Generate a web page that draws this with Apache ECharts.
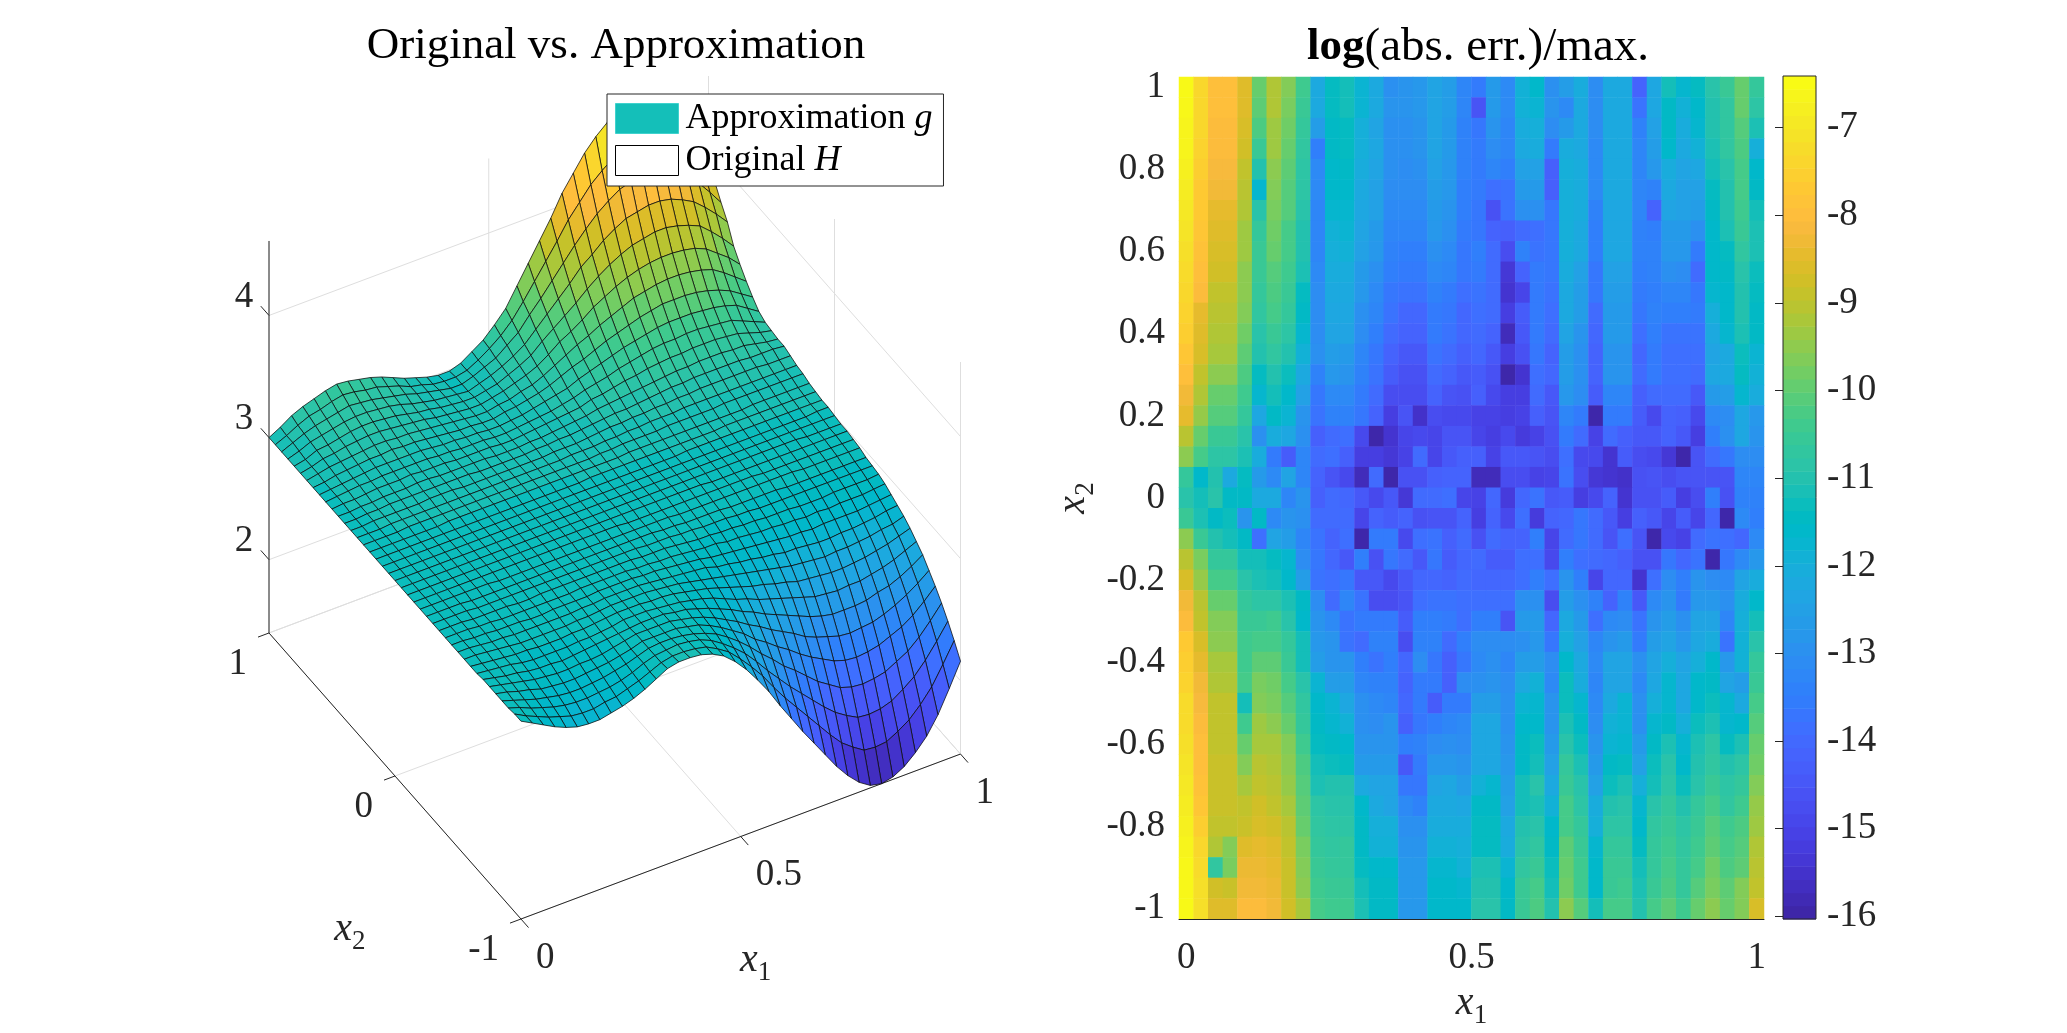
<!DOCTYPE html>
<html>
<head>
<meta charset="utf-8">
<title>Original vs. Approximation</title>
<style>html,body{margin:0;padding:0;background:#fff}#chart{width:2067px;height:1033px}</style>
<script src="https://cdn.jsdelivr.net/npm/echarts@6/dist/echarts.min.js"></script>
</head>
<body>
<div id="chart"></div>
<script>
// Tick values of both panels and the colour bar
const x1Ticks = [0, 0.5, 1];
const x2Ticks3d = [-1, 0, 1];
const zTicks = [2, 3, 4];
const x2TicksMap = [-1, -0.8, -0.6, -0.4, -0.2, 0, 0.2, 0.4, 0.6, 0.8, 1];
const colorTicks = [-7, -8, -9, -10, -11, -12, -13, -14, -15, -16];
const zLimits = [1.4, 4.61];
const colorLimits = [-16.03, -6.41];

// Sample positions: 40 along x1, 41 along x2 (x2 = 1 comes first)
const x1Samples = Array.from({ length: 40 }, (_, i) => i / 39);
const x2Samples = Array.from({ length: 41 }, (_, i) => 1 - i / 20);

// Surface height per x2 row and x1 column
const surfaceRows = [
[3.00,3.05,3.11,3.15,3.18,3.21,3.23,3.22,3.20,3.18,3.15,3.11,3.07,3.04,3.01,2.99,2.99,3.02,3.08,3.14,3.23,3.33,3.48,3.63,3.78,3.93,4.10,4.23,4.36,4.46,4.54,4.58,4.61,4.61,4.57,4.50,4.40,4.26,4.10,3.93],
[3.00,3.04,3.09,3.13,3.15,3.18,3.20,3.19,3.17,3.16,3.13,3.10,3.06,3.04,3.01,3.00,3.00,3.02,3.07,3.13,3.20,3.29,3.41,3.54,3.67,3.80,3.94,4.05,4.16,4.24,4.31,4.35,4.37,4.37,4.34,4.28,4.20,4.08,3.95,3.80],
[3.00,3.04,3.08,3.11,3.13,3.15,3.17,3.16,3.15,3.13,3.11,3.09,3.06,3.04,3.02,3.00,3.00,3.03,3.07,3.11,3.18,3.25,3.36,3.46,3.57,3.68,3.79,3.89,3.98,4.05,4.11,4.14,4.16,4.16,4.13,4.09,4.02,3.92,3.81,3.69],
[3.00,3.03,3.07,3.09,3.11,3.13,3.14,3.14,3.13,3.12,3.10,3.07,3.05,3.03,3.02,3.01,3.00,3.03,3.06,3.10,3.15,3.21,3.30,3.39,3.48,3.57,3.67,3.74,3.82,3.88,3.93,3.95,3.97,3.97,3.95,3.91,3.86,3.78,3.69,3.59],
[3.00,3.02,3.06,3.07,3.09,3.11,3.12,3.12,3.11,3.10,3.08,3.06,3.05,3.03,3.02,3.01,3.01,3.03,3.05,3.09,3.13,3.18,3.26,3.33,3.40,3.47,3.55,3.62,3.68,3.73,3.77,3.79,3.81,3.81,3.79,3.76,3.72,3.64,3.55,3.45],
[3.00,3.02,3.05,3.06,3.08,3.09,3.10,3.10,3.09,3.08,3.07,3.06,3.04,3.03,3.02,3.01,3.01,3.03,3.05,3.08,3.11,3.15,3.21,3.28,3.33,3.39,3.46,3.51,3.56,3.60,3.63,3.65,3.66,3.66,3.65,3.63,3.59,3.52,3.45,3.36],
[3.00,3.02,3.04,3.05,3.06,3.07,3.08,3.08,3.07,3.07,3.06,3.05,3.04,3.03,3.02,3.01,3.01,3.03,3.04,3.07,3.09,3.13,3.18,3.23,3.28,3.32,3.37,3.41,3.45,3.49,3.51,3.53,3.54,3.54,3.53,3.51,3.48,3.42,3.35,3.28],
[3.00,3.01,3.03,3.04,3.05,3.06,3.06,3.07,3.06,3.06,3.05,3.04,3.03,3.02,3.02,3.01,3.01,3.03,3.04,3.06,3.08,3.11,3.15,3.19,3.22,3.26,3.30,3.33,3.36,3.39,3.41,3.43,3.43,3.43,3.42,3.40,3.37,3.33,3.27,3.21],
[3.00,3.01,3.02,3.03,3.04,3.05,3.05,3.05,3.05,3.05,3.04,3.03,3.03,3.02,3.02,3.01,3.01,3.02,3.03,3.05,3.07,3.09,3.11,3.15,3.18,3.21,3.24,3.27,3.29,3.31,3.33,3.34,3.34,3.34,3.33,3.32,3.30,3.27,3.21,3.15],
[3.00,3.01,3.02,3.03,3.03,3.04,3.04,3.04,3.04,3.04,3.03,3.03,3.02,3.02,3.02,3.01,3.01,3.02,3.03,3.04,3.05,3.07,3.09,3.12,3.14,3.16,3.19,3.21,3.23,3.25,3.26,3.26,3.27,3.27,3.26,3.25,3.24,3.20,3.16,3.12],
[3.00,3.01,3.01,3.02,3.03,3.03,3.03,3.04,3.03,3.03,3.03,3.02,3.02,3.02,3.02,3.01,3.01,3.02,3.03,3.04,3.05,3.06,3.07,3.10,3.11,3.13,3.15,3.16,3.18,3.19,3.20,3.20,3.21,3.21,3.21,3.20,3.19,3.16,3.13,3.11],
[3.00,3.00,3.01,3.01,3.02,3.02,3.02,3.03,3.03,3.02,3.02,3.02,3.02,3.02,3.01,3.01,3.01,3.02,3.02,3.03,3.04,3.05,3.06,3.08,3.09,3.10,3.11,3.12,3.13,3.14,3.15,3.15,3.16,3.16,3.16,3.15,3.15,3.13,3.11,3.10],
[3.00,3.00,3.01,3.01,3.02,3.02,3.02,3.02,3.02,3.02,3.02,3.02,3.01,3.01,3.01,3.01,3.01,3.02,3.02,3.03,3.03,3.04,3.05,3.06,3.07,3.07,3.08,3.09,3.10,3.11,3.11,3.12,3.12,3.12,3.12,3.12,3.11,3.11,3.11,3.10],
[3.00,3.00,3.01,3.01,3.01,3.01,3.01,3.02,3.02,3.02,3.01,3.01,3.01,3.01,3.01,3.01,3.01,3.01,3.02,3.02,3.02,3.03,3.04,3.05,3.05,3.06,3.06,3.07,3.07,3.08,3.08,3.09,3.09,3.09,3.09,3.09,3.09,3.08,3.08,3.08],
[3.00,3.00,3.00,3.01,3.01,3.01,3.01,3.01,3.01,3.01,3.01,3.01,3.01,3.01,3.01,3.01,3.01,3.01,3.01,3.02,3.02,3.02,3.03,3.03,3.04,3.04,3.05,3.05,3.05,3.06,3.06,3.06,3.06,3.06,3.06,3.06,3.06,3.06,3.06,3.06],
[3.00,3.00,3.00,3.00,3.01,3.01,3.01,3.01,3.01,3.01,3.01,3.01,3.01,3.01,3.01,3.01,3.01,3.01,3.01,3.01,3.01,3.02,3.02,3.03,3.03,3.03,3.03,3.04,3.04,3.04,3.04,3.04,3.05,3.05,3.05,3.05,3.05,3.05,3.05,3.05],
[3.00,3.00,3.00,3.00,3.00,3.00,3.00,3.01,3.01,3.01,3.01,3.01,3.01,3.01,3.01,3.01,3.01,3.01,3.01,3.01,3.01,3.01,3.01,3.02,3.02,3.02,3.02,3.02,3.02,3.02,3.02,3.02,3.02,3.02,3.03,3.03,3.03,3.03,3.03,3.03],
[3.00,3.00,3.00,3.00,3.00,3.00,3.00,3.00,3.00,3.00,3.00,3.00,3.00,3.00,3.00,3.00,3.00,3.00,3.00,3.01,3.01,3.01,3.01,3.01,3.01,3.01,3.01,3.01,3.01,3.01,3.01,3.02,3.02,3.02,3.02,3.02,3.02,3.02,3.02,3.02],
[3.00,3.00,3.00,3.00,3.00,3.00,3.00,3.00,3.00,3.00,3.00,3.00,3.00,3.00,3.00,3.00,3.00,3.00,3.00,3.00,3.00,3.00,3.00,3.00,3.00,3.00,3.00,3.01,3.01,3.01,3.01,3.01,3.01,3.01,3.01,3.01,3.01,3.01,3.01,3.01],
[3.00,3.00,3.00,3.00,3.00,3.00,3.00,3.00,3.00,3.00,3.00,3.00,3.00,3.00,3.00,3.00,3.00,3.00,3.00,3.00,3.00,3.00,3.00,3.00,3.00,3.00,3.00,3.00,3.00,3.00,3.00,3.00,3.00,3.00,3.00,3.00,3.00,3.00,3.01,3.01],
[3.00,3.00,3.00,3.00,3.00,3.00,3.00,3.00,3.00,3.00,3.00,3.00,3.00,3.00,3.00,3.00,3.00,3.00,3.00,3.00,3.00,3.00,3.00,3.00,3.00,3.00,3.00,3.00,3.00,3.00,3.00,3.00,3.00,3.00,3.00,3.00,3.00,3.00,3.00,3.00],
[3.00,3.00,3.00,3.00,3.00,3.00,3.00,3.00,3.00,3.00,3.00,3.00,3.00,3.00,3.00,3.00,3.00,3.00,3.00,3.00,3.00,3.00,3.00,3.00,3.00,3.00,3.00,3.00,3.00,3.00,3.00,3.00,3.00,3.00,3.00,3.00,2.99,2.99,2.99,2.99],
[3.00,3.00,3.00,3.00,3.00,3.00,3.00,3.00,3.00,3.00,3.00,3.00,3.00,3.00,3.00,3.00,3.00,3.00,3.00,3.00,3.00,3.00,3.00,3.00,3.00,3.00,3.00,2.99,2.99,2.99,2.99,2.99,2.99,2.99,2.99,2.99,2.99,2.99,2.99,2.99],
[3.00,3.00,3.00,3.00,3.00,3.00,3.00,3.00,3.00,3.00,3.00,3.00,3.00,3.00,3.00,3.00,3.00,3.00,3.00,2.99,2.99,2.99,2.99,2.99,2.99,2.99,2.99,2.99,2.99,2.99,2.99,2.98,2.98,2.98,2.98,2.98,2.98,2.98,2.98,2.98],
[3.00,3.00,3.00,3.00,3.00,3.00,3.00,2.99,2.99,2.99,2.99,2.99,2.99,2.99,2.99,2.99,2.99,2.99,2.99,2.99,2.99,2.99,2.99,2.98,2.98,2.98,2.98,2.98,2.98,2.98,2.98,2.98,2.98,2.98,2.97,2.97,2.97,2.97,2.97,2.97],
[3.00,3.00,3.00,3.00,2.99,2.99,2.99,2.99,2.99,2.99,2.99,2.99,2.99,2.99,2.99,2.99,2.99,2.99,2.99,2.99,2.99,2.98,2.98,2.97,2.97,2.97,2.97,2.96,2.96,2.96,2.96,2.96,2.95,2.95,2.95,2.95,2.95,2.95,2.95,2.95],
[3.00,3.00,3.00,3.00,2.99,2.99,2.99,2.99,2.99,2.99,2.99,2.99,2.99,2.99,2.99,2.99,2.99,2.99,2.99,2.98,2.98,2.98,2.97,2.97,2.96,2.96,2.96,2.95,2.95,2.94,2.94,2.94,2.94,2.94,2.94,2.94,2.94,2.94,2.94,2.94],
[3.00,3.00,3.00,2.99,2.99,2.99,2.99,2.98,2.98,2.99,2.99,2.99,2.99,2.99,2.99,2.99,2.99,2.99,2.98,2.98,2.98,2.97,2.96,2.95,2.95,2.94,2.94,2.93,2.93,2.92,2.92,2.92,2.91,2.91,2.91,2.92,2.92,2.92,2.92,2.93],
[3.00,3.00,3.00,2.99,2.99,2.98,2.98,2.98,2.98,2.98,2.98,2.98,2.99,2.99,2.99,2.99,2.99,2.98,2.98,2.97,2.97,2.96,2.95,2.94,2.94,2.92,2.92,2.91,2.90,2.90,2.89,2.89,2.88,2.89,2.88,2.89,2.89,2.89,2.90,2.91],
[3.00,3.00,2.99,2.99,2.98,2.98,2.98,2.97,2.97,2.98,2.98,2.98,2.98,2.99,2.99,2.99,2.99,2.98,2.98,2.97,2.96,2.95,2.94,2.92,2.91,2.90,2.89,2.88,2.87,2.86,2.85,2.85,2.84,2.85,2.85,2.85,2.85,2.86,2.87,2.88],
[3.00,3.00,2.99,2.98,2.98,2.97,2.97,2.97,2.97,2.97,2.97,2.98,2.98,2.99,2.99,2.99,2.99,2.98,2.97,2.96,2.95,2.94,2.93,2.90,2.89,2.87,2.86,2.84,2.83,2.81,2.81,2.80,2.79,2.79,2.80,2.80,2.81,2.82,2.84,2.85],
[3.00,3.00,2.99,2.98,2.97,2.96,2.96,2.96,2.96,2.96,2.97,2.97,2.98,2.99,2.99,2.99,2.99,2.98,2.97,2.96,2.94,2.92,2.90,2.88,2.86,2.84,2.82,2.80,2.78,2.76,2.75,2.74,2.73,2.74,2.74,2.75,2.76,2.78,2.79,2.82],
[3.00,2.99,2.98,2.97,2.96,2.96,2.95,2.95,2.95,2.96,2.96,2.97,2.98,2.99,2.99,2.99,2.98,2.98,2.97,2.95,2.93,2.91,2.88,2.85,2.82,2.79,2.77,2.74,2.72,2.69,2.68,2.67,2.66,2.66,2.67,2.68,2.70,2.72,2.75,2.78],
[3.00,2.99,2.98,2.97,2.95,2.94,2.94,2.94,2.94,2.95,2.95,2.96,2.97,2.99,2.99,2.99,2.98,2.97,2.96,2.94,2.92,2.89,2.85,2.81,2.78,2.74,2.71,2.68,2.65,2.62,2.59,2.58,2.57,2.58,2.58,2.60,2.62,2.65,2.69,2.73],
[3.01,2.99,2.97,2.96,2.94,2.93,2.93,2.92,2.93,2.94,2.95,2.96,2.97,2.98,2.99,2.99,2.99,2.97,2.96,2.93,2.90,2.86,2.82,2.77,2.73,2.68,2.64,2.60,2.56,2.52,2.49,2.47,2.47,2.47,2.48,2.51,2.53,2.57,2.62,2.68],
[3.01,2.99,2.97,2.95,2.93,2.92,2.91,2.91,2.92,2.92,2.93,2.95,2.97,2.99,2.99,2.99,2.99,2.97,2.95,2.92,2.88,2.83,2.78,2.72,2.67,2.61,2.56,2.51,2.45,2.41,2.38,2.35,2.34,2.35,2.36,2.39,2.43,2.48,2.54,2.61],
[3.01,2.99,2.96,2.94,2.91,2.90,2.89,2.89,2.90,2.91,2.92,2.94,2.96,2.99,2.99,2.99,2.99,2.97,2.95,2.91,2.86,2.80,2.74,2.66,2.60,2.53,2.47,2.40,2.34,2.29,2.24,2.21,2.20,2.21,2.23,2.27,2.31,2.37,2.45,2.54],
[3.01,2.98,2.95,2.92,2.90,2.88,2.87,2.87,2.88,2.89,2.91,2.93,2.96,2.99,3.00,3.00,2.99,2.97,2.94,2.90,2.84,2.77,2.69,2.60,2.52,2.43,2.36,2.28,2.20,2.14,2.08,2.05,2.04,2.05,2.07,2.12,2.17,2.25,2.35,2.46],
[3.01,2.98,2.94,2.91,2.88,2.86,2.85,2.85,2.86,2.87,2.89,2.92,2.96,2.99,3.00,3.01,3.00,2.98,2.94,2.88,2.81,2.73,2.63,2.52,2.42,2.32,2.23,2.14,2.05,1.97,1.91,1.86,1.85,1.86,1.89,1.95,2.02,2.12,2.24,2.37],
[3.02,2.97,2.93,2.89,2.86,2.83,2.82,2.82,2.84,2.85,2.88,2.91,2.95,2.99,3.01,3.01,3.00,2.98,2.93,2.87,2.78,2.68,2.57,2.44,2.32,2.21,2.10,1.99,1.88,1.78,1.71,1.65,1.64,1.65,1.70,1.76,1.85,1.96,2.11,2.27],
[3.02,2.97,2.92,2.87,2.83,2.80,2.79,2.79,2.81,2.83,2.86,2.90,2.95,3.00,3.02,3.02,3.01,2.98,2.93,2.85,2.75,2.63,2.50,2.35,2.21,2.07,1.94,1.81,1.68,1.57,1.48,1.42,1.40,1.42,1.47,1.55,1.65,1.79,1.97,2.16]
];

// log10 relative error per x2 row and x1 column
const errorRows = [
[-6.45,-7.3,-7.9,-7.9,-8.5,-9.9,-9.1,-9.6,-10.4,-12.2,-11.4,-11.2,-11.8,-12.2,-13,-12.9,-12.8,-12.4,-12.6,-13.3,-13.6,-12.7,-13.2,-11.9,-11.6,-13,-12.6,-12.1,-13.1,-12.2,-12.2,-14.2,-12.3,-11.2,-11.7,-11.4,-10.9,-10.5,-9.9,-10.6],
[-6.5,-7.3,-7.9,-7.9,-8.5,-10,-9.1,-9.7,-10.5,-12.2,-11.4,-11.2,-11.8,-12.2,-12.9,-12.9,-12.8,-12.4,-12.6,-13.3,-14.6,-12.7,-13.2,-11.9,-11.8,-12.9,-13.2,-12.2,-13.1,-12.2,-12.2,-13.8,-12.3,-11.5,-11.9,-11.6,-11,-10.7,-9.9,-10.8],
[-6.6,-7.3,-8,-8,-8.6,-10.2,-9.3,-9.8,-10.6,-12.6,-11.5,-11.4,-12,-12.4,-13,-13,-12.9,-12.4,-12.7,-13.4,-13.7,-12.9,-13.3,-12.1,-12,-13.1,-12.7,-12.2,-13.1,-12.2,-12.2,-13.4,-12.5,-11.5,-12.1,-11.7,-11,-10.7,-10.1,-11.1],
[-6.6,-7.4,-8,-8,-8.7,-10.5,-9.3,-9.9,-10.7,-13.5,-11.5,-11.4,-12,-12.3,-13,-13,-12.9,-12.4,-12.7,-13.4,-13.6,-13.1,-13.3,-12.2,-12.1,-13.6,-12.1,-12.2,-13.2,-12.2,-12.2,-13.3,-12.6,-11.6,-12.2,-11.9,-11.1,-10.7,-10.2,-12],
[-6.7,-7.5,-8.1,-8.1,-8.9,-11,-9.5,-10,-10.8,-13.2,-11.6,-11.5,-12.1,-12.4,-13,-13.1,-13,-12.5,-12.8,-13.4,-13.6,-13.3,-13.5,-12.5,-12.5,-14.3,-12,-12.1,-13.2,-12.2,-12.2,-13.3,-12.8,-12.1,-12.4,-12.3,-11.2,-10.9,-10.3,-11.6],
[-6.8,-7.6,-8.2,-8.2,-9,-11.7,-9.6,-10.1,-10.8,-13.2,-11.6,-11.6,-12.2,-12.5,-13.1,-13.1,-13.1,-12.6,-12.8,-13.5,-13.6,-13.9,-13.8,-12.7,-12.7,-14.3,-12,-12.1,-13.2,-12.2,-12.2,-13.3,-13.4,-12.2,-12.5,-12.5,-11.4,-11,-10.3,-11.5],
[-6.9,-7.6,-8.4,-8.4,-9.1,-10.9,-9.7,-10.1,-10.9,-13.3,-11.7,-11.7,-12.3,-12.5,-13.2,-13.2,-13.2,-12.7,-12.9,-13.5,-13.7,-14.7,-13.8,-13,-13,-13.7,-12,-12.1,-13.4,-12.3,-12.3,-13.3,-14.2,-12.4,-12.5,-12.6,-11.5,-11,-10.4,-11.2],
[-7,-7.7,-8.5,-8.5,-9.3,-10.6,-9.8,-10.3,-11,-13.3,-11.9,-11.8,-12.4,-12.7,-13.3,-13.3,-13.3,-12.8,-13,-13.6,-13.7,-14.2,-14.3,-14,-13.9,-13.7,-12,-12.2,-13.5,-12.3,-12.3,-13.4,-13.5,-12.7,-12.7,-13,-11.6,-11.1,-10.5,-11.1],
[-7.1,-7.8,-8.6,-8.6,-9.3,-10.5,-9.9,-10.3,-11,-13.3,-12,-11.9,-12.5,-12.8,-13.4,-13.5,-13.5,-13,-13.2,-13.7,-13.5,-14,-14.8,-13.4,-13.8,-13.7,-12,-12.2,-13.5,-12.3,-12.3,-13.4,-13.4,-12.8,-12.8,-13.6,-11.6,-11.4,-10.7,-11.1],
[-7.2,-7.9,-8.7,-8.7,-9.5,-10.5,-10.1,-10.4,-11.1,-13.2,-12.1,-12.1,-12.7,-13,-13.5,-13.6,-13.6,-13.2,-13.3,-13.7,-13.6,-14,-15.4,-14.2,-13.6,-13.7,-12.1,-12.5,-13.7,-12.5,-12.5,-13.5,-13.4,-13,-13.1,-14,-11.6,-11.5,-10.9,-11.3],
[-7.3,-8,-8.9,-8.9,-9.5,-10.6,-10.2,-10.5,-11.4,-13.1,-12.2,-12.2,-12.8,-13.2,-13.7,-13.8,-13.8,-13.4,-13.6,-13.9,-13.8,-14,-15.5,-15,-13.6,-13.8,-12.2,-12.6,-13.7,-12.6,-12.6,-13.6,-13.5,-13.3,-13.3,-13.7,-11.7,-11.6,-11,-11.4],
[-7.4,-8.4,-9,-9,-9.6,-10.7,-10.3,-10.6,-11.5,-13.1,-12.3,-12.3,-13,-13.3,-13.8,-14.1,-14.1,-13.6,-13.7,-14.1,-13.9,-14,-15.2,-14.4,-13.6,-13.9,-12.2,-12.6,-14,-12.7,-12.7,-13.7,-13.4,-13.5,-13.5,-13.6,-12,-11.6,-11,-11.5],
[-7.5,-8.5,-9.1,-9.1,-9.8,-10.9,-10.5,-10.8,-11.7,-13.1,-12.4,-12.4,-13.1,-13.5,-14,-14.2,-14.2,-13.6,-13.8,-14.1,-14,-14.2,-15.8,-14.5,-13.6,-14,-12.4,-12.9,-14.1,-12.7,-12.7,-13.9,-13.5,-13.8,-13.8,-13.8,-12.2,-11.7,-11.1,-11.5],
[-7.7,-8.6,-9.2,-9.2,-10,-11,-10.7,-11,-11.9,-13,-12.6,-12.7,-13.3,-13.7,-14.2,-14.5,-14.5,-13.8,-14,-14.3,-14.1,-14.5,-15.2,-14.7,-13.7,-14.2,-12.6,-13,-14.2,-12.9,-12.9,-14.1,-13.6,-13.9,-13.9,-13.9,-12.4,-12.2,-11.3,-11.8],
[-7.9,-8.9,-9.5,-9.5,-10.2,-11.4,-11,-11.3,-12.2,-13.4,-12.8,-12.9,-13.4,-13.8,-14.4,-14.7,-14.7,-14,-14.2,-14.5,-14.4,-14.7,-16,-15.5,-13.9,-14.1,-12.6,-13,-14.2,-12.9,-12.9,-14,-13.6,-13.9,-13.9,-14,-12.3,-12.2,-11.4,-11.9],
[-8.2,-9.1,-9.9,-9.9,-10.4,-11.7,-11.2,-11.6,-12.5,-13.7,-13.2,-13.2,-13.6,-14,-14.8,-14.8,-14.8,-14.2,-14.6,-14.7,-14.3,-14.9,-15.2,-15.2,-14,-14.5,-12.8,-13.1,-14.4,-13.3,-13.3,-14.3,-14,-14,-14,-14.5,-12.7,-12.6,-11.7,-12.1],
[-8.4,-9.4,-10.1,-10.1,-10.6,-12.3,-11.5,-11.8,-12.9,-13.8,-13.4,-13.4,-13.7,-14.2,-15.2,-14.6,-15.6,-14.8,-14.9,-14.9,-15.1,-15.1,-15.2,-15.1,-14.3,-14.6,-13.3,-13.6,-16,-13.6,-13.6,-14.4,-14.9,-14.2,-14.3,-14.9,-13.2,-13.1,-12.3,-12.8],
[-9,-9.9,-10.5,-10.5,-10.9,-13,-12.1,-12.3,-13,-14.3,-14,-13.9,-14.9,-16,-15.5,-15,-14.9,-15,-14.6,-14.6,-15,-15.2,-14.9,-15.3,-15.1,-14.7,-13.6,-14,-15.1,-14,-14.3,-14.5,-14.5,-14.2,-14.5,-15.2,-13.5,-13,-12.3,-12.9],
[-9.5,-10.3,-10.8,-10.8,-11.1,-12.1,-13.6,-14.4,-13.3,-14,-13.9,-14.3,-15.2,-15.2,-15.4,-15.1,-14,-15,-14.5,-14.3,-14.3,-15.1,-14.5,-14.5,-14.6,-14.8,-13.9,-14.9,-14.9,-15.5,-14.4,-14.8,-14.9,-15.4,-16,-14.6,-14,-13.7,-13.1,-13.1],
[-10.6,-11.6,-11,-12.2,-11.4,-12.7,-13.2,-12.4,-13.3,-14.2,-14.6,-14.9,-15.8,-14,-16,-14.7,-14.7,-14.3,-14.2,-14.2,-15.8,-15.8,-14.8,-14.8,-15.1,-15,-13.8,-14.8,-15.4,-15.5,-15.6,-14.7,-14.6,-14.8,-14.6,-14.6,-14.6,-14.6,-13.3,-13.3],
[-10.9,-11.2,-10.9,-11.5,-11.5,-12.2,-12.2,-13.3,-12.9,-14.3,-14,-14.1,-14.5,-14.9,-14.5,-15.4,-14,-14,-13.9,-15,-15.1,-14.1,-15.3,-14.1,-13.8,-14.5,-14.4,-15.2,-14.9,-14.2,-15.5,-14.7,-14.7,-14.4,-15.2,-14.8,-13.5,-14.7,-13.4,-13.4],
[-10.5,-11.1,-11.5,-11.3,-12.9,-11.5,-13.2,-12.9,-13,-14,-14,-14,-15,-14.2,-14.4,-14.2,-14.7,-14.6,-14.6,-14.2,-15.2,-14.2,-14.9,-13.9,-15.3,-14.2,-14.1,-13.7,-14,-14.5,-15.2,-14.3,-14.5,-15,-14.4,-15,-14.1,-16,-13.2,-13.5],
[-9.5,-10.5,-11,-11.2,-11.5,-13.9,-12.4,-12.6,-13.3,-13.8,-14.2,-13.9,-16,-13.6,-13.6,-14.9,-13.9,-13.8,-14.3,-14,-14.7,-14,-14.2,-14.2,-13.5,-15,-14,-13.7,-14,-14.6,-13.9,-14.6,-16,-14.9,-15.1,-14,-13.8,-13.9,-14.1,-13.2],
[-9,-9.7,-10.6,-10.6,-11.2,-11.2,-11.4,-11.7,-13.1,-13.7,-14.1,-14.5,-13.5,-14.7,-13.7,-14,-14.5,-13.7,-14.4,-14.1,-14,-14.4,-14.4,-13.9,-13.9,-14.9,-13.5,-13.9,-14,-14.1,-14.3,-14.7,-14.7,-13.7,-14.1,-13.8,-16,-13.7,-13.2,-12.8],
[-8.6,-9.4,-10.3,-10.3,-10.9,-11.1,-11.2,-11.6,-12.6,-13.8,-13.9,-13.7,-14.5,-14.5,-14.9,-14.5,-14.1,-14.1,-14.2,-14,-14.1,-14.1,-14.1,-13.9,-13.5,-13.9,-12.9,-13.5,-15,-14.1,-14.1,-15.5,-13.9,-13.1,-13.5,-12.9,-13.1,-13.2,-12.4,-12.1],
[-8.2,-9,-9.9,-9.9,-10.6,-10.8,-10.8,-11.1,-11.5,-13.1,-14,-13.3,-13.8,-14.8,-14.8,-14.6,-13.9,-13.8,-13.8,-13.9,-13.9,-13.9,-13.9,-13,-13,-14.8,-12.6,-13,-13.4,-14.2,-13.4,-14.5,-13.2,-12.9,-13.6,-12.8,-12.8,-13,-12.1,-11.6],
[-8,-8.9,-9.6,-9.6,-10.5,-10.5,-10.4,-10.9,-11.6,-12.9,-13.2,-13.8,-13.6,-13.6,-13.6,-14.4,-13.5,-13.5,-13.6,-13.9,-13.5,-13.5,-14.6,-12.7,-12.7,-14.1,-12.2,-12.7,-13.9,-13.2,-13.1,-13.8,-12.9,-12.6,-13,-12.4,-12.4,-13.3,-12,-11.2],
[-7.6,-8.6,-9.5,-9.5,-10.4,-10.3,-10.3,-10.6,-11.2,-12.8,-12.9,-13.8,-14,-13.4,-13.4,-14.8,-13.4,-13.4,-14,-13.5,-13.1,-13.1,-13.1,-13,-12.8,-13.7,-12,-12.5,-13.3,-12.9,-12.7,-13.6,-12.6,-12.4,-12.8,-12.3,-12.1,-13.8,-11.9,-10.9],
[-7.5,-8.4,-9.2,-9.2,-10.4,-10,-10,-10.5,-11.2,-12.6,-12.9,-12.9,-13.5,-13.8,-13.5,-14.1,-13.1,-13.7,-14.3,-13.7,-13.2,-13,-13.3,-12.6,-12.6,-13.1,-11.6,-12.2,-13.2,-12.4,-12.4,-13,-12.4,-12,-12.4,-12,-11.6,-12.8,-11.9,-10.6],
[-7.4,-8.2,-9.1,-9.1,-10.3,-9.7,-9.8,-10.3,-10.9,-11.8,-12.6,-12.6,-13.3,-13.4,-13.4,-14.2,-13.6,-13.6,-14.3,-13.1,-13,-12.9,-13.1,-12.2,-11.9,-13.2,-11.3,-12.1,-13.3,-12.4,-12.4,-13.2,-12.3,-11.7,-12.3,-11.6,-11.5,-12.4,-12.6,-10.5],
[-7.2,-8.1,-8.9,-8.9,-11.2,-9.6,-9.7,-10.1,-10.7,-11.6,-11.8,-12.3,-13,-13.2,-13.3,-14.1,-13.6,-14.4,-13.6,-13.6,-12.6,-12.6,-13,-11.8,-11.7,-12.9,-11.3,-11.7,-13.2,-12.2,-11.8,-13,-12,-11.7,-12.3,-11.6,-11.3,-11.7,-12.2,-10.3],
[-7.2,-8,-8.9,-8.9,-10.4,-9.3,-9.5,-9.9,-10.6,-11.5,-11.7,-11.9,-13,-13.1,-12.9,-14.3,-13.7,-13.5,-13.3,-13.2,-12.3,-12.3,-13,-11.6,-11.6,-12.9,-11.1,-11.5,-13.1,-11.9,-11.8,-13,-11.7,-11.5,-12,-11.3,-11.1,-11.7,-11.6,-10.1],
[-7.1,-7.9,-8.9,-8.9,-9.9,-9.2,-9.2,-9.6,-10.4,-11.4,-11.5,-11.6,-12.9,-12.9,-12.9,-13.5,-13.4,-13.1,-13,-13.1,-12.3,-12.3,-12.9,-11.5,-11.3,-12.7,-10.9,-11.3,-12.9,-11.8,-11.7,-12.7,-11.5,-11.1,-11.7,-11.1,-10.8,-11.4,-11.1,-9.9],
[-7,-7.9,-8.8,-8.8,-9.6,-9,-9.1,-9.5,-10.2,-11.2,-11.3,-11.4,-12.7,-12.7,-12.7,-14.5,-13.6,-12.8,-12.8,-12.9,-12.3,-12.3,-12.8,-11.5,-11.2,-12.5,-10.6,-11.1,-12.7,-11.5,-11.4,-12.5,-11.3,-10.9,-11.6,-11,-10.7,-11,-10.8,-9.8],
[-6.9,-7.8,-8.8,-8.8,-9.2,-8.9,-9,-9.4,-10.1,-11.1,-11,-11,-12.2,-12.4,-12.4,-13.7,-13.7,-12.4,-12.3,-12.6,-11.9,-11.7,-12.6,-11.2,-10.9,-12.2,-10.5,-10.9,-12.5,-11.3,-11.1,-12,-11.2,-10.8,-11.3,-10.9,-10.5,-10.8,-10.6,-9.6],
[-6.8,-7.7,-8.8,-8.8,-8.9,-8.7,-8.9,-9.2,-10,-10.8,-10.9,-10.9,-11.6,-12.2,-12.4,-13.2,-13.4,-12.2,-12.2,-12.3,-11.5,-11.5,-12.5,-11.2,-11.1,-11.9,-10.3,-10.8,-12.1,-11,-10.9,-11.7,-10.9,-10.6,-11,-10.6,-10.3,-10.7,-10.4,-9.4],
[-6.7,-7.5,-8.9,-8.9,-8.8,-8.6,-8.7,-9,-9.9,-10.7,-10.8,-10.8,-11.5,-12,-12,-13,-13,-12.1,-12.1,-12.1,-11.4,-11.4,-12.2,-11,-10.9,-11.6,-10.3,-10.6,-12,-10.8,-10.8,-11.6,-10.7,-10.5,-10.8,-10.5,-10.1,-10.4,-10.2,-9.3],
[-6.6,-7.3,-9.1,-9.6,-8.5,-8.4,-8.5,-8.9,-9.7,-10.6,-10.7,-10.6,-11.5,-11.9,-11.9,-12.9,-12.9,-11.9,-11.9,-12,-11.4,-11.4,-12.1,-10.9,-10.7,-11.5,-10,-10.5,-11.7,-10.6,-10.6,-11.4,-10.6,-10.4,-10.7,-10.4,-10,-10.3,-10.1,-9.1],
[-6.5,-7.2,-10.7,-9.7,-8.3,-8.3,-8.4,-8.8,-9.6,-10.5,-10.6,-10.6,-11.4,-11.6,-11.6,-12.8,-12.8,-11.7,-11.7,-11.9,-11.1,-11.1,-11.8,-10.7,-10.5,-11.3,-9.9,-10.4,-11.6,-10.5,-10.5,-11.2,-10.6,-10.3,-10.6,-10.3,-9.8,-10.2,-10,-9],
[-6.5,-7.1,-8.7,-8.8,-8.2,-8.2,-8.3,-8.8,-9.5,-10.4,-10.5,-10.5,-11.2,-11.5,-11.5,-12.8,-12.8,-11.6,-11.6,-11.7,-11,-11,-11.6,-10.5,-10.3,-11.2,-9.8,-10.4,-11.6,-10.5,-10.4,-11.1,-10.5,-10.2,-10.6,-10.1,-9.7,-10,-9.6,-8.9],
[-6.45,-7.1,-8.5,-8.5,-8,-8,-8.2,-8.7,-9.2,-10.3,-10.4,-10.4,-11.1,-11.5,-11.5,-12.8,-12.8,-11.6,-11.6,-11.6,-10.9,-10.9,-11.5,-10.5,-10.2,-11,-9.5,-10.1,-11.2,-10.3,-10.3,-11,-10.3,-10,-10.4,-9.9,-9.5,-9.9,-9.6,-8.6]
];

// Sequential colour table used by the surface, the map and the colour bar
const parula = [
[.2422,.1504,.6603],[.2504,.1650,.7076],[.2578,.1818,.7511],[.2647,.1978,.7952],[.2706,.2147,.8364],[.2751,.2342,.8710],[.2783,.2559,.8991],[.2803,.2782,.9221],
[.2813,.3006,.9414],[.2810,.3228,.9579],[.2795,.3447,.9717],[.2760,.3667,.9829],[.2699,.3892,.9906],[.2602,.4123,.9952],[.2440,.4358,.9988],[.2206,.4603,.9973],
[.1963,.4847,.9892],[.1834,.5074,.9798],[.1786,.5289,.9682],[.1764,.5499,.9520],[.1687,.5703,.9359],[.1540,.5902,.9218],[.1460,.6091,.9079],[.1380,.6276,.8973],
[.1248,.6459,.8883],[.1113,.6635,.8763],[.0952,.6798,.8598],[.0689,.6948,.8394],[.0297,.7082,.8163],[.0036,.7203,.7917],[.0067,.7312,.7660],[.0433,.7411,.7394],
[.0964,.7500,.7120],[.1408,.7584,.6842],[.1717,.7670,.6554],[.1938,.7758,.6251],[.2161,.7843,.5923],[.2470,.7918,.5567],[.2906,.7973,.5188],[.3406,.8008,.4789],
[.3909,.8029,.4354],[.4456,.8024,.3909],[.5044,.7993,.3480],[.5616,.7942,.3045],[.6174,.7876,.2612],[.6720,.7793,.2227],[.7242,.7698,.1910],[.7738,.7598,.1646],
[.8203,.7498,.1535],[.8634,.7406,.1596],[.9035,.7330,.1774],[.9393,.7288,.2100],[.9728,.7298,.2394],[.9956,.7434,.2371],[.9970,.7659,.2199],[.9952,.7861,.1990],
[.9892,.8136,.1885],[.9786,.8386,.1766],[.9676,.8639,.1643],[.9610,.8890,.1537],[.9597,.9135,.1423],[.9628,.9373,.1265],[.9691,.9606,.1064],[.9769,.9839,.0805]
].map(c => `rgb(${c.map(v => Math.round(v * 255)).join(',')})`);

const serif = '"Liberation Serif", "DejaVu Serif", serif';
const ink = '#262626';
const guide = '#dedede';
const labelSize = 37;

// Fractions of the hidden 3D grid covered by one full span of each data axis
const view = { originX: 0.3644, x1: [0.6356, 0.1957], x2: [-0.3644, 0.3393], z: [0, 0.465] };

function project(x1, x2, z) {
  const u = (x2 + 1) / 2;
  const v = (z - zLimits[0]) / (zLimits[1] - zLimits[0]);
  return [
    view.originX + view.x1[0] * x1 + view.x2[0] * u,
    view.x1[1] * x1 + view.x2[1] * u + view.z[1] * v
  ];
}

function shade(value, limits) {
  const t = (value - limits[0]) / (limits[1] - limits[0]);
  return parula[Math.max(0, Math.min(63, Math.floor(t * 64)))];
}

// Faces run from the far corner towards the viewer so nearer ones paint over
const faces = [];
for (let r = 0; r < x2Samples.length - 1; r++) {
  for (let c = x1Samples.length - 2; c >= 0; c--) {
    faces.push([x1Samples[c], x1Samples[c + 1], x2Samples[r], x2Samples[r + 1],
      surfaceRows[r][c], surfaceRows[r][c + 1], surfaceRows[r + 1][c + 1], surfaceRows[r + 1][c]]);
  }
}

const [zLo, zHi] = zLimits;
const wallLines = [];
const axisLines = [
  [0, 1, zLo, 0, 1, zHi],
  [0, -1, zLo, 1, -1, zLo],
  [0, 1, zLo, 0, -1, zLo]
];
// Floor edges and grid, both back walls
wallLines.push([0, 1, zLo, 1, 1, zLo], [1, 1, zLo, 1, -1, zLo]);
x1Ticks.forEach(t => {
  wallLines.push([t, -1, zLo, t, 1, zLo]);
  wallLines.push([t, 1, zLo, t, 1, zHi]);
  axisLines.push([t, -1, zLo, t, -1.06, zLo]);
});
x2Ticks3d.forEach(t => {
  wallLines.push([0, t, zLo, 1, t, zLo]);
  wallLines.push([1, t, zLo, 1, t, zHi]);
  axisLines.push([0, t, zLo, -0.025, t, zLo]);
});
zTicks.forEach(t => {
  wallLines.push([0, 1, t, 1, 1, t]);
  wallLines.push([1, 1, t, 1, -1, t]);
  axisLines.push([0, 1, t, 0, 1.065, t]);
});

// text, anchor in data space, pixel shift, alignment
const sceneLabels = [
  ...zTicks.map(t => [String(t), 0, 1, t, -25, -18, 'center']),
  ...x2Ticks3d.map(t => [String(t), 0, t, zLo, -22, 31, 'right']),
  ...x1Ticks.map(t => [String(t), t, -1, zLo, 15, 39, 'left']),
  ['{v|x}{s|1}', 0.5, -1, zLo, 15, 124, 'center'],
  ['{v|x}{s|2}', 0, 0, zLo, -45, 153, 'center']
];

const subscriptRich = {
  v: { fontFamily: serif, fontStyle: 'italic', fontSize: 40, color: ink, lineHeight: 52, verticalAlign: 'middle' },
  s: { fontFamily: serif, fontSize: 27, color: ink, lineHeight: 52, verticalAlign: 'bottom' }
};

function renderSegments(color, width) {
  return function (params, api) {
    const a = api.coord(project(api.value(0), api.value(1), api.value(2)));
    const b = api.coord(project(api.value(3), api.value(4), api.value(5)));
    return {
      type: 'line', silent: true,
      shape: { x1: a[0], y1: a[1], x2: b[0], y2: b[1] },
      style: { stroke: color, lineWidth: width, fill: null }
    };
  };
}

function renderFace(params, api) {
  const corners = [[0, 2, 4], [1, 2, 5], [1, 3, 6], [0, 3, 7]];
  const points = corners.map(k => api.coord(project(api.value(k[0]), api.value(k[1]), api.value(k[2]))));
  const mean = (api.value(4) + api.value(5) + api.value(6) + api.value(7)) / 4;
  return {
    type: 'polygon', silent: true,
    shape: { points },
    style: { fill: shade(mean, zLimits), stroke: '#0b0b0b', lineWidth: 0.75, lineJoin: 'round' }
  };
}

function renderSceneLabel(params, api) {
  const item = sceneLabels[params.dataIndex];
  const p = api.coord(project(item[1], item[2], item[3]));
  return {
    type: 'text', silent: true,
    x: p[0] + item[4], y: p[1] + item[5],
    style: {
      text: item[0], rich: subscriptRich, align: item[6], verticalAlign: 'middle',
      fontFamily: serif, fontSize: labelSize, fill: ink
    }
  };
}

const mapCells = [];
errorRows.forEach((row, r) => row.forEach((v, c) => mapCells.push([c, errorRows.length - 1 - r, v])));

const levelStep = (colorLimits[1] - colorLimits[0]) / parula.length;
const colorLevels = parula.map((_, i) => [colorLimits[0] + i * levelStep, colorLimits[0] + (i + 1) * levelStep]);

const halfX = 0.5 / (x1Samples.length - 1);
const halfY = 0.5 * (x2Samples[0] - x2Samples[1]);

const option = {
  animation: false,
  backgroundColor: '#fff',
  title: [
    {
      text: 'Original vs. Approximation', left: 611, top: 19, textAlign: 'center',
      textStyle: { fontFamily: serif, fontWeight: 'normal', fontSize: 45, color: '#000' }
    },
    {
      text: '{b|log}{n|(abs. err.)/max.}', left: 1473, top: 19, textAlign: 'center',
      textStyle: {
        fontWeight: 'normal',
        rich: {
          b: { fontFamily: serif, fontWeight: 'bold', fontSize: 45, color: '#000' },
          n: { fontFamily: serif, fontWeight: 'normal', fontSize: 47, color: '#000' }
        }
      }
    }
  ],
  legend: {
    left: 607, top: 94, orient: 'vertical', align: 'left',
    padding: [6.5, 11, 7.5, 8], itemWidth: 63, itemHeight: 30, itemGap: 6,
    backgroundColor: '#fff', borderColor: ink, borderWidth: 1, selectedMode: false,
    data: [
      { name: 'Approximation g', icon: 'rect', itemStyle: { color: '#14bfb9', borderColor: '#3fd2cd', borderWidth: 1 } },
      { name: 'Original H', icon: 'rect', itemStyle: { color: '#fff', borderColor: '#000', borderWidth: 1 } }
    ],
    formatter: name => name === 'Approximation g' ? '{t|Approximation }{i|g}' : '{t|Original }{i|H}',
    textStyle: {
      rich: {
        t: { fontFamily: serif, fontSize: 36, color: '#000', lineHeight: 30, padding: [0, 0, 0, 2] },
        i: { fontFamily: serif, fontStyle: 'italic', fontSize: 36, color: '#000', lineHeight: 30 }
      }
    }
  },
  grid: [
    { left: 269, top: 76, width: 691.5, height: 843, outerBoundsMode: 'none' },
    { left: 1179, top: 77, width: 585, height: 842, outerBoundsMode: 'none' },
    { left: 1783, top: 76, width: 33, height: 843, outerBoundsMode: 'none' }
  ],
  xAxis: [
    { gridIndex: 0, type: 'value', min: 0, max: 1, show: false },
    { gridIndex: 1, type: 'category', data: x1Samples, show: false },
    {
      gridIndex: 1, type: 'value', min: -halfX, max: 1 + halfX, position: 'bottom', z: 6,
      axisLine: { show: true, onZero: false, lineStyle: { color: ink, width: 1 } },
      axisTick: { show: false }, splitLine: { show: false },
      axisLabel: { customValues: x1Ticks, margin: 21, fontFamily: serif, fontSize: labelSize, color: ink, formatter: v => String(v) },
      name: '{v|x}{s|1}', nameLocation: 'middle', nameGap: 58,
      nameTextStyle: { rich: subscriptRich }
    },
    { gridIndex: 2, type: 'value', min: 0, max: 1, show: false }
  ],
  yAxis: [
    { gridIndex: 0, type: 'value', min: 0, max: 1, show: false },
    { gridIndex: 1, type: 'category', data: x2Samples.slice().reverse(), show: false },
    {
      gridIndex: 1, type: 'value', min: -1 - halfY, max: 1 + halfY, position: 'left', z: 6,
      axisLine: { show: false }, axisTick: { show: false }, splitLine: { show: false },
      axisLabel: { customValues: x2TicksMap, margin: 14, fontFamily: serif, fontSize: labelSize, color: ink, formatter: v => String(v) },
      name: '{v|x}{s|2}', nameLocation: 'middle', nameGap: 80, nameRotate: 90,
      nameTextStyle: { rich: subscriptRich }
    },
    {
      gridIndex: 2, type: 'value', min: colorLimits[0], max: colorLimits[1], position: 'right', z: 6,
      axisLine: { show: false }, splitLine: { show: false },
      axisTick: { customValues: colorTicks, inside: true, length: 8, lineStyle: { color: ink, width: 1 } },
      axisLabel: { customValues: colorTicks, margin: 11, fontFamily: serif, fontSize: labelSize, color: ink, formatter: v => String(v) }
    }
  ],
  visualMap: {
    show: false, seriesIndex: 4, min: colorLimits[0], max: colorLimits[1], dimension: 2,
    inRange: { color: parula }
  },
  series: [
    {
      name: 'guides', type: 'custom', coordinateSystem: 'cartesian2d', xAxisIndex: 0, yAxisIndex: 0,
      data: wallLines, renderItem: renderSegments(guide, 1), silent: true, z: 1
    },
    {
      name: 'frame', type: 'custom', coordinateSystem: 'cartesian2d', xAxisIndex: 0, yAxisIndex: 0,
      data: axisLines, renderItem: renderSegments(ink, 1), silent: true, z: 2
    },
    {
      name: 'Approximation g', type: 'custom', coordinateSystem: 'cartesian2d', xAxisIndex: 0, yAxisIndex: 0,
      data: faces, renderItem: renderFace, silent: true, z: 3, itemStyle: { color: '#14bfb9' }
    },
    {
      name: 'Original H', type: 'custom', coordinateSystem: 'cartesian2d', xAxisIndex: 0, yAxisIndex: 0,
      data: [], renderItem: () => null, silent: true, itemStyle: { color: '#fff' }
    },
    {
      name: 'log error', type: 'heatmap', xAxisIndex: 1, yAxisIndex: 1, data: mapCells,
      progressive: 0, silent: true, z: 3, emphasis: { disabled: true }
    },
    {
      name: 'tick text', type: 'custom', coordinateSystem: 'cartesian2d', xAxisIndex: 0, yAxisIndex: 0,
      data: sceneLabels.map((_, i) => [i]), renderItem: renderSceneLabel, silent: true, z: 4
    },
    {
      name: 'colour levels', type: 'custom', coordinateSystem: 'cartesian2d', xAxisIndex: 3, yAxisIndex: 3,
      data: colorLevels, silent: true, z: 3,
      encode: { y: [0, 1] },
      renderItem: (params, api) => {
        const a = api.coord([0, api.value(0)]);
        const b = api.coord([1, api.value(1)]);
        return {
          type: 'rect', silent: true,
          shape: { x: a[0], y: b[1], width: b[0] - a[0], height: a[1] - b[1] + 0.5 },
          style: { fill: parula[params.dataIndex] }
        };
      }
    },
    {
      name: 'colour frame', type: 'custom', coordinateSystem: 'cartesian2d', xAxisIndex: 3, yAxisIndex: 3,
      data: [colorLimits], silent: true, z: 5,
      encode: { y: [0, 1] },
      renderItem: (params, api) => {
        const a = api.coord([0, api.value(0)]);
        const b = api.coord([1, api.value(1)]);
        return {
          type: 'rect', silent: true,
          shape: { x: a[0], y: b[1], width: b[0] - a[0], height: a[1] - b[1] },
          style: { fill: null, stroke: ink, lineWidth: 1 }
        };
      }
    }
  ]
};

echarts.init(document.getElementById('chart'), null, { renderer: 'canvas' }).setOption(option);
</script>
</body>
</html>
